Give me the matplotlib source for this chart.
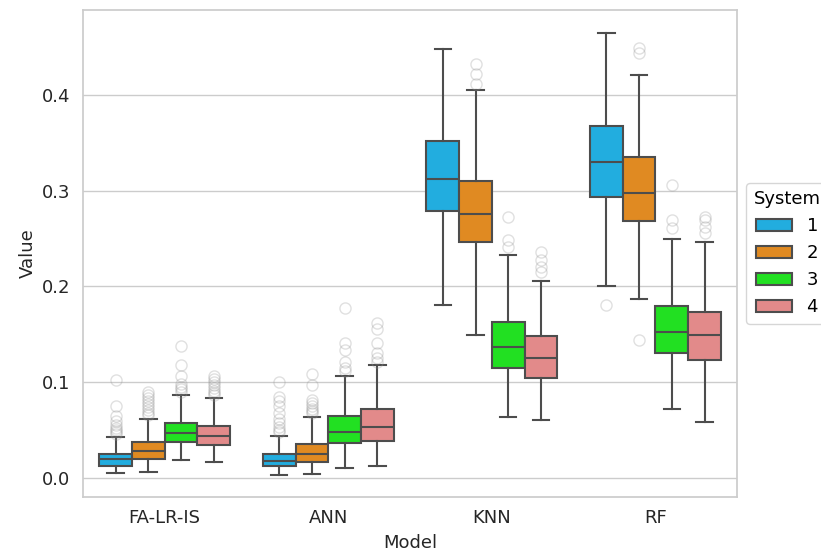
import matplotlib
matplotlib.use("Agg")
import matplotlib.pyplot as plt
from matplotlib.patches import Patch

# box summaries; rows = model, columns = system 1..4
models = ["FA-LR-IS", "ANN", "KNN", "RF"]
systems = ["1", "2", "3", "4"]

whis_lo = [[0.005, 0.0066, 0.0185, 0.017],
           [0.003, 0.004, 0.0108, 0.0122],
           [0.181, 0.149, 0.064, 0.061],
           [0.200, 0.187, 0.072, 0.058]]
q1 = [[0.0129, 0.0198, 0.0373, 0.0345],
      [0.0125, 0.0167, 0.0369, 0.039],
      [0.279, 0.246, 0.115, 0.104],
      [0.293, 0.268, 0.130, 0.123]]
median = [[0.0195, 0.0285, 0.0473, 0.0435],
          [0.018, 0.0247, 0.048, 0.0533],
          [0.312, 0.276, 0.137, 0.125],
          [0.330, 0.298, 0.152, 0.149]]
q3 = [[0.025, 0.0376, 0.0574, 0.054],
      [0.025, 0.0355, 0.0648, 0.0717],
      [0.352, 0.310, 0.163, 0.148],
      [0.367, 0.335, 0.180, 0.173]]
whis_hi = [[0.0425, 0.062, 0.087, 0.084],
           [0.044, 0.0637, 0.107, 0.1177],
           [0.448, 0.405, 0.233, 0.206],
           [0.465, 0.421, 0.250, 0.246]]
fliers = [
    [[0.102, 0.075, 0.065, 0.060, 0.055, 0.052, 0.050, 0.048, 0.046],
     [0.090, 0.087, 0.084, 0.080, 0.077, 0.074, 0.071, 0.068, 0.066],
     [0.138, 0.118, 0.107, 0.098, 0.095, 0.093, 0.090],
     [0.107, 0.103, 0.100, 0.097, 0.094, 0.091, 0.089, 0.087]],
    [[0.100, 0.085, 0.080, 0.075, 0.068, 0.062, 0.057, 0.053, 0.050, 0.048],
     [0.109, 0.097, 0.081, 0.078, 0.075, 0.072, 0.070, 0.068],
     [0.177, 0.141, 0.134, 0.121, 0.115, 0.112],
     [0.162, 0.156, 0.141, 0.130, 0.125, 0.121]],
    [[],
     [0.432, 0.422, 0.411],
     [0.272, 0.248, 0.241],
     [0.236, 0.228, 0.220, 0.215]],
    [[0.181],
     [0.449, 0.444, 0.144],
     [0.306, 0.269, 0.261],
     [0.273, 0.269, 0.262, 0.256]],
]

colors = ["#22ADDF", "#E08A22", "#22E022", "#E28A8A"]
line_c = "#4d4d4d"

plt.rcParams["font.family"] = "DejaVu Sans"
fig = plt.figure(figsize=(8.21, 5.53), dpi=100)
ax = fig.add_axes([0.101, 0.1013, 0.797, 0.881])

width = 0.2
for i, m in enumerate(models):
    for j, s in enumerate(systems):
        stats = [{
            "whislo": whis_lo[i][j], "q1": q1[i][j], "med": median[i][j],
            "q3": q3[i][j], "whishi": whis_hi[i][j], "fliers": fliers[i][j],
        }]
        pos = i + (j - 1.5) * width
        ax.bxp(stats, positions=[pos], widths=width * 0.999, patch_artist=True,
               manage_ticks=False,
               boxprops=dict(facecolor=colors[j], edgecolor=line_c, linewidth=1.5),
               medianprops=dict(color=line_c, linewidth=1.5),
               whiskerprops=dict(color=line_c, linewidth=1.5),
               capprops=dict(color=line_c, linewidth=1.5),
               flierprops=dict(marker="o", markersize=8, markerfacecolor="none",
                               markeredgecolor="#999999", alpha=0.3, linestyle="none"))

ax.set_xlim(-0.5, 3.5)
ax.set_ylim(-0.0198, 0.4888)
ax.set_xticks(range(len(models)))
ax.set_xticklabels(models)
ax.set_yticks([0.0, 0.1, 0.2, 0.3, 0.4])
ax.tick_params(axis="both", labelsize=13, length=0, pad=9, colors="#262626")
ax.yaxis.grid(True, color="#cccccc", linewidth=1)
ax.set_axisbelow(True)
for sp in ax.spines.values():
    sp.set_color("#cccccc")
    sp.set_linewidth(1.25)
ax.set_xlabel("Model", fontsize=13, color="#262626", labelpad=5)
ax.set_ylabel("Value", fontsize=13, color="#262626", labelpad=4)

handles = [Patch(facecolor=c, edgecolor=line_c, linewidth=1.5) for c in colors]
leg = ax.legend(handles, systems, title="System", loc="center left",
                bbox_to_anchor=(1.0, 0.5), fontsize=13, title_fontsize=13,
                frameon=True, edgecolor="#cccccc")
leg.get_frame().set_linewidth(1.0)

fig.savefig("out.png", dpi=100)
